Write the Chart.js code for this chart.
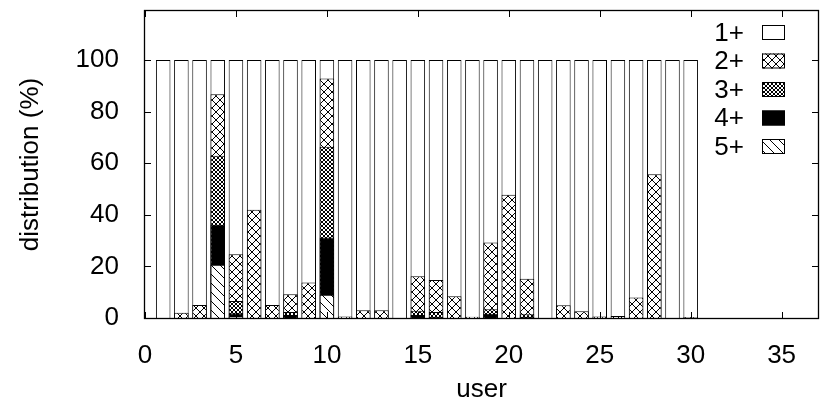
<!DOCTYPE html>
<html>
<head>
<meta charset="utf-8">
<script src="https://cdn.jsdelivr.net/npm/chart.js@4"></script>
<style>
  html, body { margin: 0; padding: 0; background: #fff; }
</style>
</head>
<body>
<canvas id="chart" width="827" height="409"></canvas>
<script>
// Data: share of sessions (%) per user, by count
const users = [1, 2, 3, 4, 5, 6, 7, 8, 9, 10, 11, 12, 13, 14, 15, 16, 17, 18, 19, 20, 21, 22, 23, 24, 25, 26, 27, 28, 29, 30];
const seriesLabels = ['1+', '2+', '3+', '4+', '5+'];
const p1 = [100, 100, 100, 100, 100, 100, 100, 100, 100, 100, 100, 100, 100, 100, 100, 100, 100, 100, 100, 100, 100, 100, 100, 100, 100, 100, 100, 100, 100, 100];
const p2 = [0, 2, 5, 86.7, 24.7, 42, 5, 9.2, 13.8, 92.8, 0.6, 3, 3, 0, 16.2, 14.7, 8.4, 0.5, 29.3, 47.8, 15.2, 0, 4.9, 2.6, 0.6, 0.8, 7.9, 55.7, 0, 0.4];
const p3 = [0, 0, 0, 62.9, 6.6, 0, 0, 2.3, 0, 66.4, 0, 0, 0, 0, 2.8, 2.3, 0, 0, 3.4, 0, 1.5, 0, 0, 0, 0, 0, 0, 0, 0, 0];
const p4 = [0, 0, 0, 36.1, 1.8, 0, 0, 1.2, 0, 31.2, 0, 0, 0, 0, 1.2, 0.5, 0, 0, 1.6, 0, 0.5, 0, 0, 0, 0, 0, 0, 0, 0, 0];
const p5 = [0, 0, 0, 20.6, 0.5, 0, 0, 0, 0, 9, 0, 0, 0, 0, 0, 0, 0, 0, 0, 0, 0, 0, 0, 0, 0, 0, 0, 0, 0, 0];
const xTicks = [0, 5, 10, 15, 20, 25, 30, 35];
const yTicks = [0, 20, 40, 60, 80, 100];

const canvas = document.getElementById('chart');
const ctx = canvas.getContext('2d');

// gnuplot-like fill patterns
function makePattern(size, draw) {
    const c = document.createElement('canvas');
    c.width = size; c.height = size;
    const g = c.getContext('2d');
    g.fillStyle = '#fff';
    g.fillRect(0, 0, size, size);
    g.strokeStyle = '#000';
    g.lineWidth = 1;
    draw(g, size);
    return ctx.createPattern(c, 'repeat');
}
function cross(g, s) {
    g.beginPath();
    g.moveTo(0, 0); g.lineTo(s, s);
    g.moveTo(s, 0); g.lineTo(0, s);
    g.stroke();
}
const fills = [
    '#fff',
    makePattern(8, cross),
    makePattern(4, cross),
    '#000',
    makePattern(9, function(g, s) {
        g.beginPath();
        g.moveTo(-1, -1); g.lineTo(s + 1, s + 1);
        g.moveTo(-1, s - 1); g.lineTo(1, s + 1);
        g.moveTo(s - 1, -1); g.lineTo(s + 1, 1);
        g.stroke();
    })
];

function points(vals) {
    return users.map((u, i) => ({ x: u, y: vals[i] }));
}
const allSeries = [p1, p2, p3, p4, p5];

// Legend: label then sample box, inside the plot at top right
const keyBox = {
    id: 'keyBox',
    afterDraw(chart) {
        const c = chart.ctx;
        c.save();
        c.font = '26px "Liberation Sans"';
        c.textAlign = 'right';
        c.textBaseline = 'middle';
        chart.data.datasets.forEach(function(ds, i) {
            const yy = 32.5 + i * 28.5;
            c.fillStyle = '#000';
            c.fillText(ds.label, 744, yy + 1);
            c.fillStyle = ds.backgroundColor;
            c.fillRect(762, yy - 7.5, 23, 15);
            c.strokeStyle = '#000';
            c.lineWidth = 1;
            c.strokeRect(762.5, yy - 7, 22, 14);
        });
        c.restore();
    }
};

// Full border with inward ticks on all four sides
const frame = {
    id: 'frame',
    afterDraw(chart) {
        const c = chart.ctx;
        const a = chart.chartArea;
        const sx = chart.scales.x, sy = chart.scales.y;
        c.save();
        c.strokeStyle = '#000';
        c.lineWidth = 1;
        c.beginPath();
        sx.ticks.forEach(function(t) {
            const px = Math.round(sx.getPixelForValue(t.value)) + 0.5;
            c.moveTo(px, a.bottom); c.lineTo(px, a.bottom - 6);
            c.moveTo(px, a.top); c.lineTo(px, a.top + 6);
        });
        sy.ticks.forEach(function(t) {
            const py = Math.round(sy.getPixelForValue(t.value)) + 0.5;
            c.moveTo(a.left, py); c.lineTo(a.left + 6, py);
            c.moveTo(a.right, py); c.lineTo(a.right - 6, py);
        });
        c.stroke();
        c.lineWidth = 1.3;
        c.strokeRect(a.left - 0.5, a.top - 0.5, a.right - a.left + 1, a.bottom - a.top + 1);
        c.restore();
    }
};

Chart.defaults.font.family = '"Liberation Sans", Arial, sans-serif';
Chart.defaults.font.size = 26;
Chart.defaults.color = '#000';

new Chart(ctx, {
    type: 'bar',
    data: {
        datasets: seriesLabels.map(function(lab, i) {
            return {
                label: lab,
                data: points(allSeries[i]),
                backgroundColor: fills[i],
                borderColor: '#000',
                borderWidth: 1,
                grouped: false,
                order: seriesLabels.length - i,
                barPercentage: 0.8,
                categoryPercentage: 1
            };
        })
    },
    options: {
        responsive: false,
        animation: false,
        layout: { padding: { left: 0, top: 11, right: 9, bottom: 0 } },
        plugins: {
            legend: { display: false },
            tooltip: { enabled: false }
        },
        scales: {
            x: {
                type: 'linear',
                min: 0,
                max: 37,
                offset: false,
                grid: { display: false },
                border: { display: false },
                afterBuildTicks: function(scale) {
                    scale.ticks = xTicks.map(v => ({ value: v }));
                },
                afterFit: function(scale) {
                    scale.height = 91;
                    scale.paddingLeft = 0;
                    scale.paddingRight = 0;
                },
                ticks: { padding: 14, maxRotation: 0, autoSkip: false },
                title: { display: true, text: 'user', padding: { top: 10, bottom: 4 } }
            },
            y: {
                min: 0,
                max: 119,
                grid: { display: false },
                border: { display: false },
                afterBuildTicks: function(scale) {
                    scale.ticks = yTicks.map(v => ({ value: v }));
                },
                afterFit: function(scale) {
                    scale.width = 145;
                    scale.paddingTop = 0;
                    scale.paddingBottom = 0;
                },
                ticks: { padding: 18 },
                title: { display: true, text: 'distribution (%)', padding: { top: 15, bottom: 4 } }
            }
        }
    },
    plugins: [frame, keyBox]
});
</script>
</body>
</html>
